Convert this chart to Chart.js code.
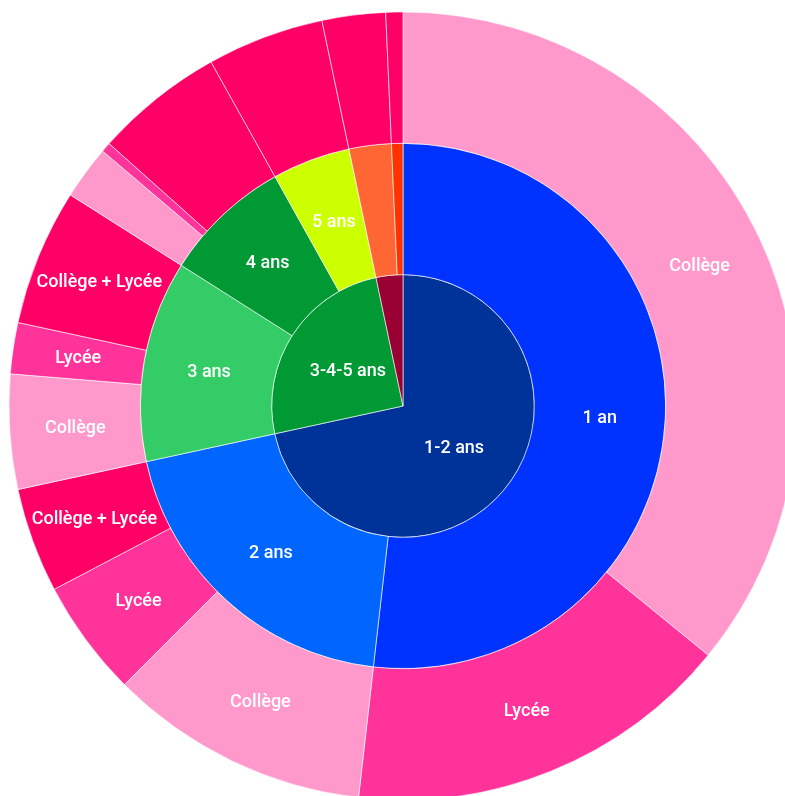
<!DOCTYPE html>
<html lang="fr">
<head>
<meta charset="utf-8">
<title>Répartition par durée et cycle</title>
<script src="https://cdn.jsdelivr.net/npm/chart.js@4.4.1/dist/chart.umd.min.js"></script>
<style>
    html, body {
        margin: 0;
        padding: 0;
        width: 785px;
        height: 796px;
        overflow: hidden;
        background: #ffffff;
    }
    #sunburst {
        position: absolute;
        left: 3px;
        top: 6px;
    }
</style>
</head>
<body>
<canvas id="sunburst" width="800" height="800"></canvas>
<script>
// Anneau central : groupes de durée (en % du total)
const groupeLabels = ['1-2 ans', '3-4-5 ans', ''];
const groupeValeurs = [71.6, 25.1, 3.3];
const groupeCouleurs = ['#003399', '#009933', '#990033'];

// Anneau du milieu : durée
const dureeLabels = ['1 an', '2 ans', '3 ans', '4 ans', '5 ans', '', ''];
const dureeValeurs = [51.8, 19.8, 12.4, 7.9, 4.8, 2.6, 0.7];
const dureeCouleurs = ['#0033ff', '#0066ff', '#33cc66', '#009933', '#ccff00', '#ff6633', '#ff3300'];

// Anneau extérieur : cycle (dans l'ordre des durées ci-dessus)
const cycleLabels = [
    'Collège', 'Lycée',
    'Collège', 'Lycée', 'Collège + Lycée',
    'Collège', 'Lycée', 'Collège + Lycée',
    'Collège', 'Lycée', 'Collège + Lycée',
    'Collège + Lycée',
    'Collège + Lycée',
    'Collège + Lycée'
];
const cycleValeurs = [35.9, 15.9, 10.7, 4.8, 4.3, 4.7, 2.1, 5.6, 2.2, 0.4, 5.3, 4.8, 2.6, 0.7];
const cycleAffiches = [true, true, true, true, true, true, true, true, false, false, false, false, false, false];

const cycleCouleurs = {
    'Collège': '#ff99cc',
    'Lycée': '#ff3399',
    'Collège + Lycée': '#ff0066'
};

// Plugin : texte blanc au centre de chaque secteur
const etiquettesPlugin = {
    id: 'etiquettes',
    afterDatasetsDraw(chart) {
        const ctx = chart.ctx;
        ctx.save();
        ctx.fillStyle = '#ffffff';
        ctx.font = '500 18px Roboto, "Noto Sans", sans-serif';
        ctx.textAlign = 'center';
        ctx.textBaseline = 'middle';
        chart.data.datasets.forEach((dataset, i) => {
            const meta = chart.getDatasetMeta(i);
            meta.data.forEach((arc, j) => {
                const texte = dataset.etiquettes[j];
                if (!texte) return;
                if (dataset.affiches && !dataset.affiches[j]) return;
                const p = arc.getProps(['x', 'y', 'startAngle', 'endAngle', 'innerRadius', 'outerRadius'], true);
                const angle = (p.startAngle + p.endAngle) / 2;
                const r = (p.innerRadius + p.outerRadius) / 2;
                ctx.fillText(texte, p.x + Math.cos(angle) * r, p.y + Math.sin(angle) * r + 1);
            });
        });
        ctx.restore();
    }
};

const ctx = document.getElementById('sunburst').getContext('2d');
new Chart(ctx, {
    type: 'doughnut',
    data: {
        labels: cycleLabels,
        datasets: [
            {
                data: cycleValeurs,
                etiquettes: cycleLabels,
                affiches: cycleAffiches,
                backgroundColor: cycleLabels.map(c => cycleCouleurs[c]),
                borderColor: '#ffffff',
                borderWidth: 0.6
            },
            {
                data: dureeValeurs,
                etiquettes: dureeLabels,
                backgroundColor: dureeCouleurs,
                borderColor: '#ffffff',
                borderWidth: 0.6
            },
            {
                data: groupeValeurs,
                etiquettes: groupeLabels,
                backgroundColor: groupeCouleurs,
                borderColor: '#ffffff',
                borderWidth: 0.6
            }
        ]
    },
    options: {
        responsive: false,
        animation: false,
        cutout: 0,
        radius: 394,
        layout: { padding: 0 },
        plugins: {
            legend: { display: false },
            tooltip: { enabled: false }
        }
    },
    plugins: [etiquettesPlugin]
});
</script>
</body>
</html>
